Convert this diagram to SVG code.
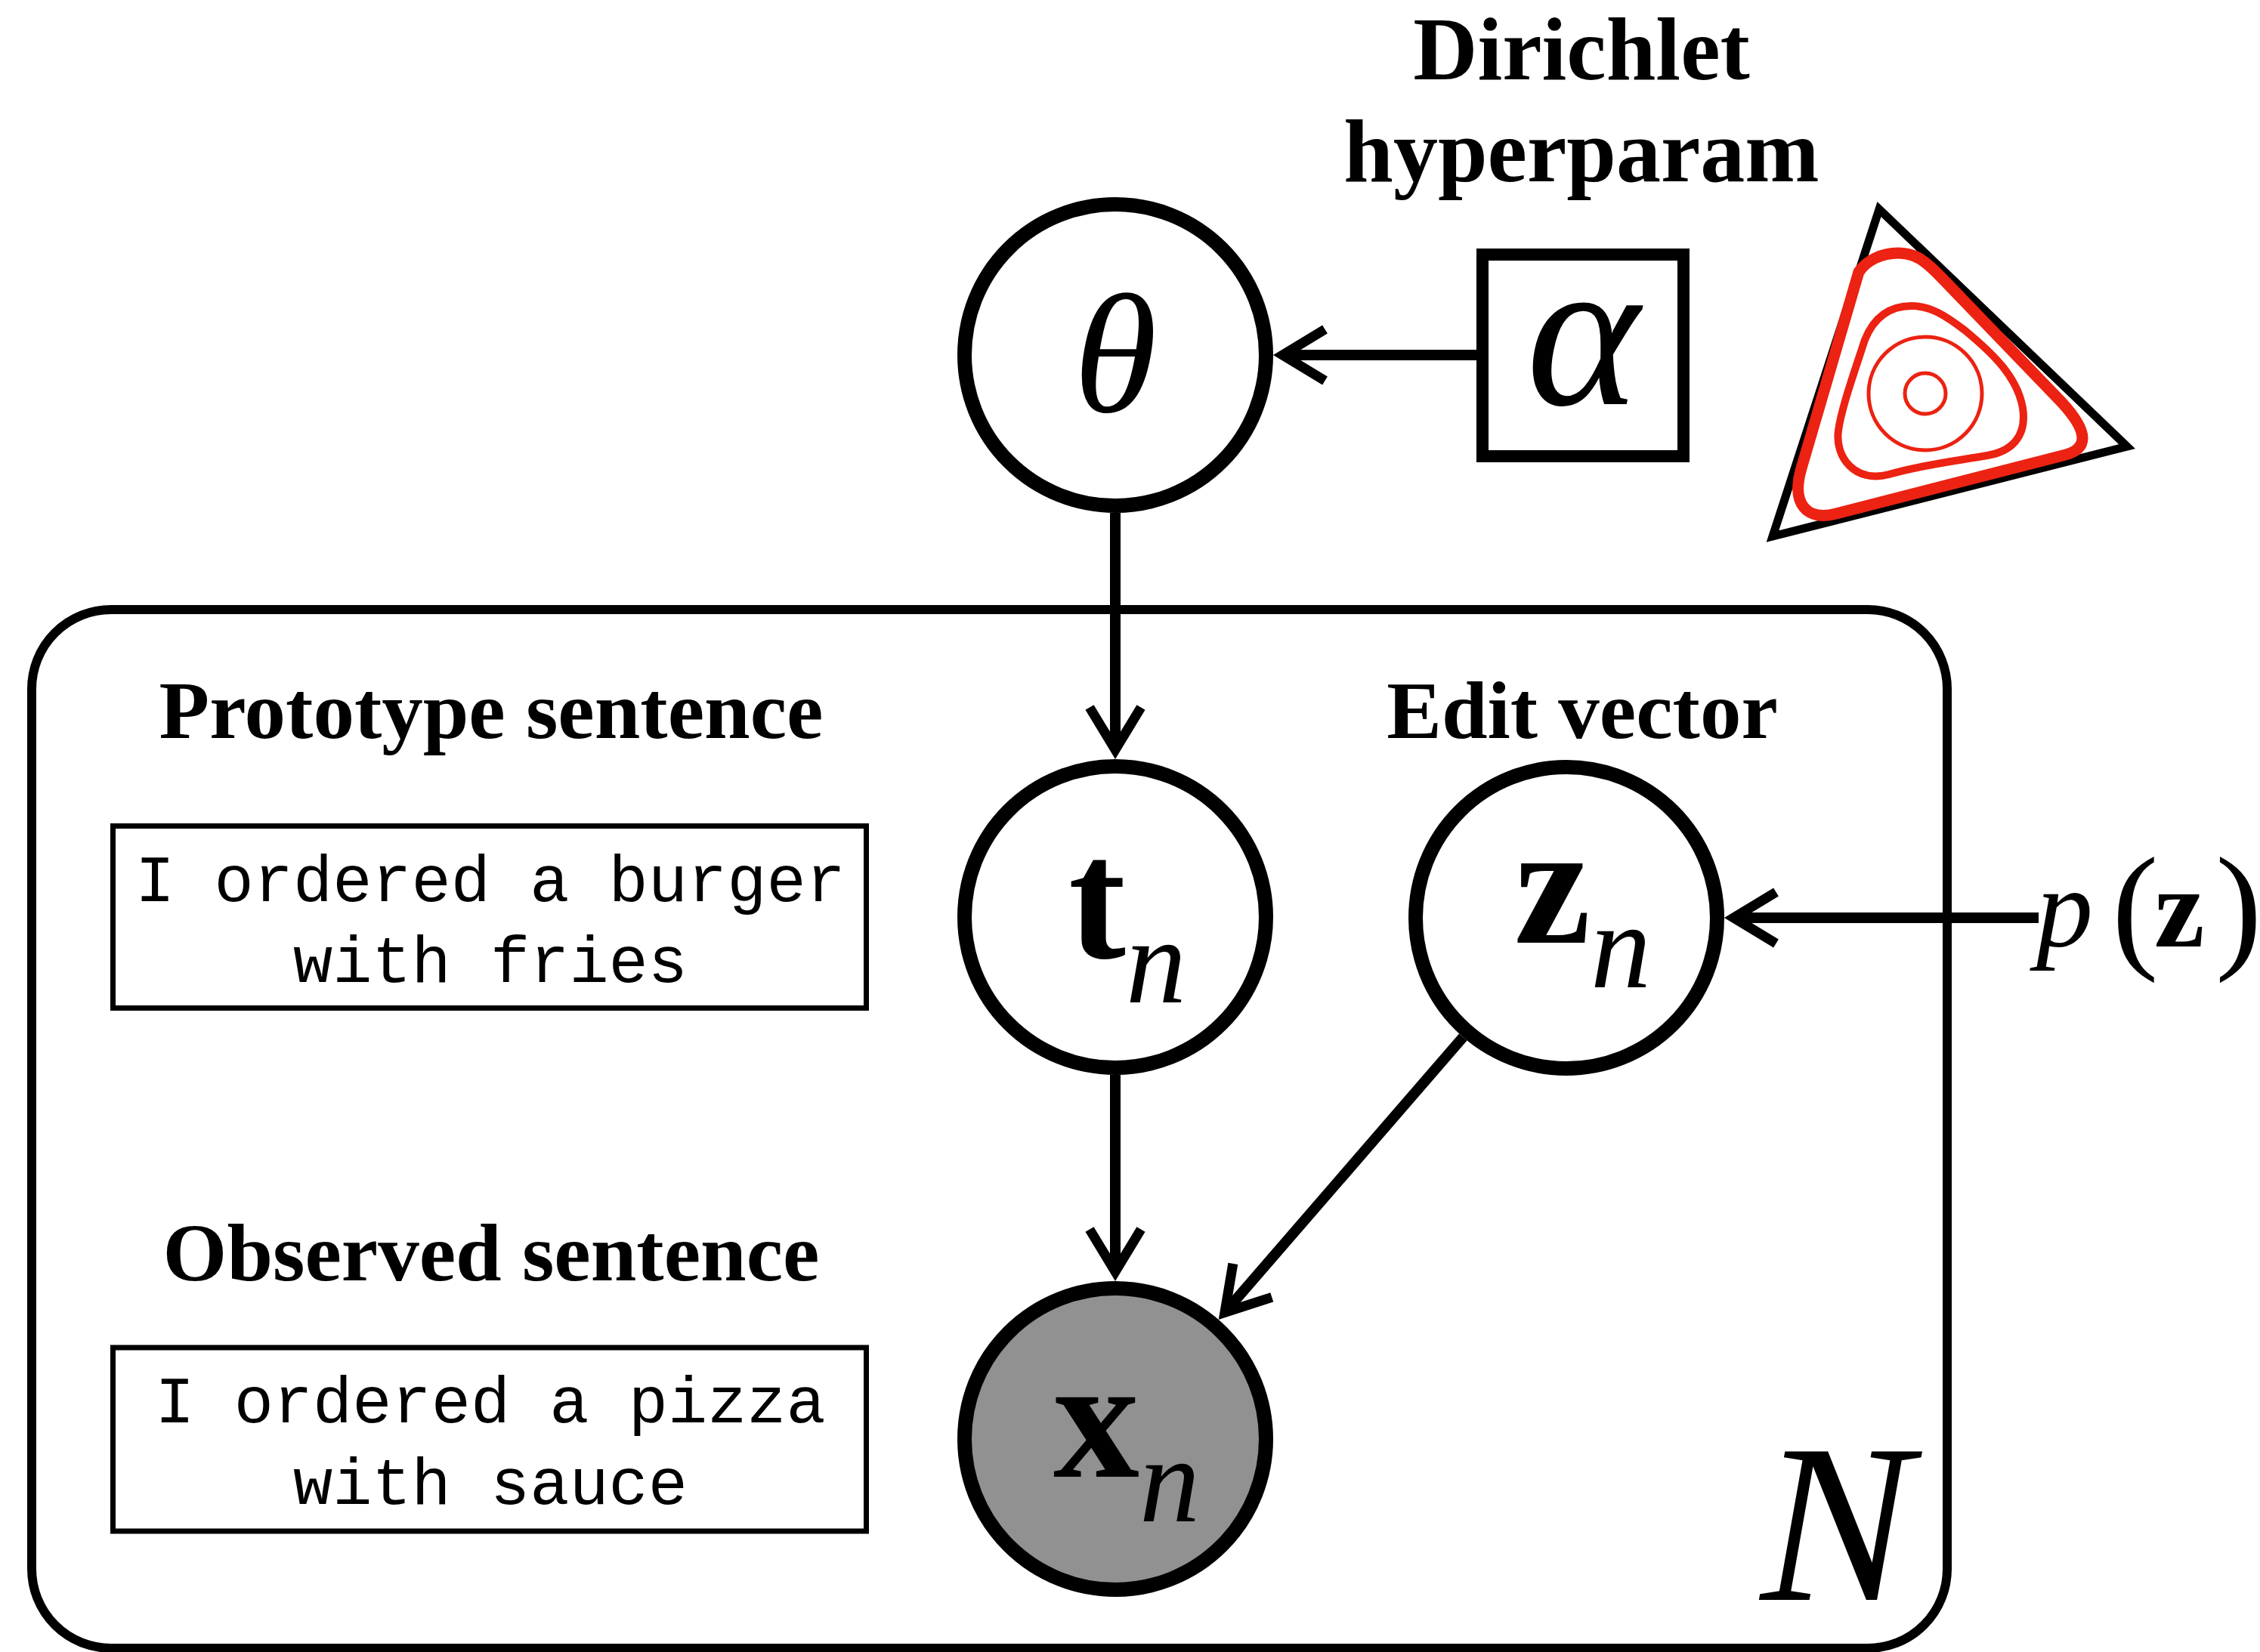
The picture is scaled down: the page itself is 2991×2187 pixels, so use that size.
<svg xmlns="http://www.w3.org/2000/svg" width="2991" height="2187" viewBox="0 0 2991 2187">
  <defs>
    <style>
      .node{fill:#fff;stroke:#000;stroke-width:19}
      .obs{fill:#919191}
      .edge{fill:none;stroke:#000;stroke-width:14;marker-end:url(#head)}
      .head{font-family:"Liberation Serif","Times New Roman",serif;font-weight:bold;font-size:109px;text-anchor:middle}
      .title{font-family:"Liberation Serif","Times New Roman",serif;font-weight:bold;font-size:118px;text-anchor:middle}
      .mono{font-family:"Liberation Mono","Courier New",monospace;font-size:87px;text-anchor:middle}
      .mi{font-family:"Liberation Serif","Times New Roman",serif;font-style:italic}
      .mb{font-family:"Liberation Serif","Times New Roman",serif;font-weight:bold}
      .mr{font-family:"Liberation Serif","Times New Roman",serif}
      .box{fill:#fff;stroke:#000;stroke-width:7}
      .contour{fill:none;stroke:#ec2212}
    </style>
    <marker id="head" markerUnits="userSpaceOnUse" viewBox="-80 -50 100 100" markerWidth="100" markerHeight="100" refX="0" refY="0" orient="auto">
      <path d="M-56,-34 L0,0 L-56,34" fill="none" stroke="#000" stroke-width="13" stroke-miterlimit="10"/>
    </marker>
  </defs>

  <rect width="2991" height="2187" fill="#fff"/>

  <!-- plate over the N data points -->
  <g id="plate">
    <rect x="42" y="807" width="2535" height="1375" rx="105" ry="105" fill="none" stroke="#000" stroke-width="12"/>
    <text class="mi" x="2330" y="2118" font-size="300">N</text>
  </g>

  <!-- Dirichlet hyperparameter label -->
  <g id="label-dirichlet">
    <text class="title" x="2093" y="105">Dirichlet</text>
    <text class="title" x="2093" y="240">hyperparam</text>
  </g>

  <!-- simplex with density contours -->
  <g id="simplex">
    <polygon points="2487,277 2815,591 2346,710" fill="none" stroke="#000" stroke-width="11" stroke-linejoin="miter" stroke-miterlimit="10"/>
    <path class="contour" stroke-width="15" d="M2512,335 C2535,335 2548,345 2570,368 L2728,532 C2765,572 2765,595 2730,603 L2430,680 C2392,690 2370,668 2384,620 L2460,360 C2470,345 2490,335 2512,335 Z"/>
    <path class="contour" stroke-width="10" d="M2530,405 C2555,405 2575,418 2600,437 C2640,470 2670,500 2677,540 C2683,580 2660,598 2630,603 C2590,610 2545,615 2500,628 C2455,640 2428,605 2433,570 C2437,540 2455,490 2468,450 C2480,420 2500,405 2530,405 Z"/>
    <circle class="contour" stroke-width="5" cx="2548" cy="521" r="75"/>
    <circle class="contour" stroke-width="5" cx="2548" cy="521" r="27"/>
  </g>

  <!-- section headings and example sentences -->
  <g id="label-prototype">
    <text class="head" x="650" y="977">Prototype sentence</text>
    <rect class="box" x="149.5" y="1093.5" width="997" height="241"/>
    <text class="mono" x="649" y="1193">I ordered a burger</text>
    <text class="mono" x="649" y="1300">with fries</text>
  </g>
  <g id="label-edit">
    <text class="head" x="2094" y="977">Edit vector</text>
  </g>
  <g id="label-observed">
    <text class="head" x="650" y="1695">Observed sentence</text>
    <rect class="box" x="149.5" y="1784" width="997" height="243"/>
    <text class="mono" x="649" y="1883">I ordered a pizza</text>
    <text class="mono" x="649" y="1991">with sauce</text>
  </g>

  <!-- nodes -->
  <g id="node-theta">
    <circle class="node" cx="1476" cy="470" r="199.5"/>
    <text class="mi" x="1476" y="545" font-size="225" text-anchor="middle">θ</text>
  </g>
  <g id="node-alpha">
    <rect x="1962" y="337" width="266" height="267" fill="#fff" stroke="#000" stroke-width="16"/>
    <text class="mi" x="2095" y="535" font-size="285" text-anchor="middle">α</text>
  </g>
  <g id="node-t">
    <circle class="node" cx="1476" cy="1214" r="199.5"/>
    <text class="mb" x="1414" y="1268" font-size="228">t</text>
    <text class="mi" x="1490" y="1327" font-size="160">n</text>
  </g>
  <g id="node-z">
    <circle class="node" cx="2073" cy="1215" r="199.5"/>
    <text class="mb" x="2004" y="1248" font-size="228">z</text>
    <text class="mi" x="2105" y="1307" font-size="160">n</text>
  </g>
  <g id="node-x">
    <circle class="node obs" cx="1476" cy="1905" r="199.5"/>
    <text class="mb" x="1394" y="1955" font-size="228">x</text>
    <text class="mi" x="1508" y="2014" font-size="160">n</text>
  </g>
  <g id="node-prior">
    <text class="mi" x="2695" y="1253" font-size="150">p</text>
    <text class="mr" x="2795" y="1262" font-size="185">(</text>
    <text class="mb" x="2851" y="1253" font-size="150">z</text>
    <text class="mr" x="2932" y="1262" font-size="185">)</text>
  </g>

  <!-- connectors -->
  <g id="connectors">
    <path class="edge" d="M1954,470 L1697.5,470"/>
    <path class="edge" d="M1476,679 L1476,992.5"/>
    <path class="edge" d="M1476,1423 L1476,1683.5"/>
    <path class="edge" d="M1936.3,1373 L1620.9,1737.5"/>
    <path class="edge" d="M2698,1215 L2294.5,1215"/>
  </g>
</svg>
